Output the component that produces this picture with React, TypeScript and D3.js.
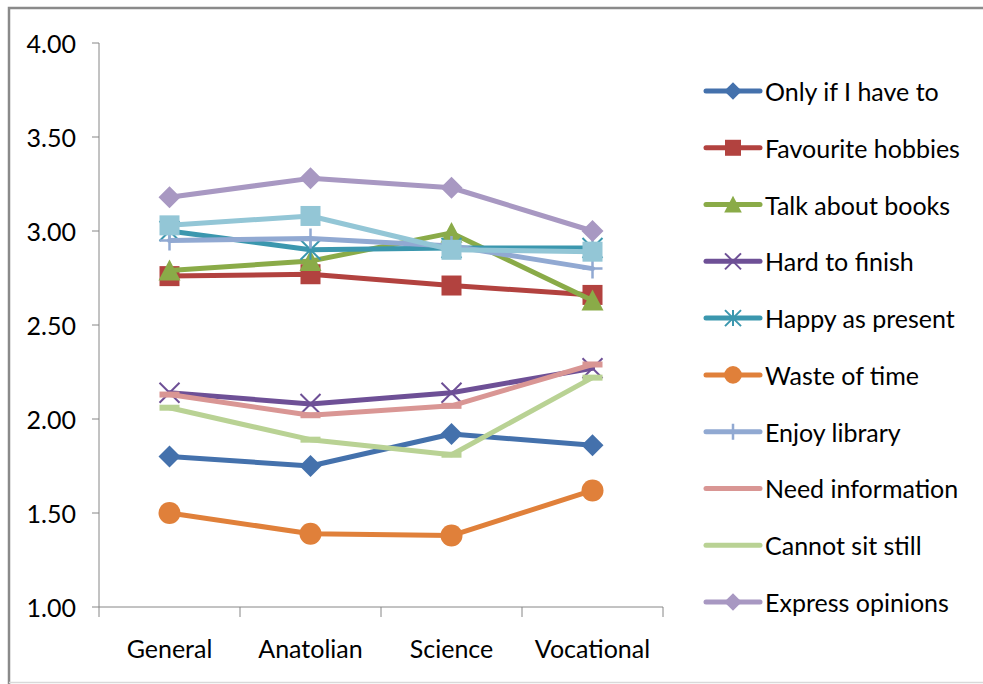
import { useEffect, useRef } from 'react';
import * as d3 from 'd3';

const categories = ['General', 'Anatolian', 'Science', 'Vocational'];

const yTicks = [1.0, 1.5, 2.0, 2.5, 3.0, 3.5, 4.0];

const onlyIfIHaveTo = [1.8, 1.75, 1.92, 1.86];
const favouriteHobbies = [2.76, 2.77, 2.71, 2.66];
const talkAboutBooks = [2.79, 2.84, 2.99, 2.63];
const hardToFinish = [2.14, 2.08, 2.14, 2.27];
const happyAsPresent = [3.0, 2.9, 2.91, 2.91];
const wasteOfTime = [1.5, 1.39, 1.38, 1.62];
const enjoyLibrary = [2.95, 2.96, 2.92, 2.8];
const needInformation = [2.13, 2.02, 2.07, 2.29];
const cannotSitStill = [2.06, 1.89, 1.81, 2.22];
const expressOpinions = [3.18, 3.28, 3.23, 3.0];
// 11th series is plotted but not listed in the legend
const extraSeries = [3.03, 3.08, 2.9, 2.89];

type Shape = 'diamond' | 'square' | 'triangle' | 'x' | 'asterisk' | 'circle' | 'plus' | 'dash';

const series: { name: string; values: number[]; color: string; shape: Shape; legend: boolean }[] = [
  { name: 'Only if I have to', values: onlyIfIHaveTo, color: '#4471AC', shape: 'diamond', legend: true },
  { name: 'Favourite hobbies', values: favouriteHobbies, color: '#B2423F', shape: 'square', legend: true },
  { name: 'Talk about books', values: talkAboutBooks, color: '#8AAB48', shape: 'triangle', legend: true },
  { name: 'Hard to finish', values: hardToFinish, color: '#6E5096', shape: 'x', legend: true },
  { name: 'Happy as present', values: happyAsPresent, color: '#3B97AE', shape: 'asterisk', legend: true },
  { name: 'Waste of time', values: wasteOfTime, color: '#E0803A', shape: 'circle', legend: true },
  { name: 'Enjoy library', values: enjoyLibrary, color: '#91A9D2', shape: 'plus', legend: true },
  { name: 'Need information', values: needInformation, color: '#D99694', shape: 'dash', legend: true },
  { name: 'Cannot sit still', values: cannotSitStill, color: '#B9D294', shape: 'dash', legend: true },
  { name: 'Express opinions', values: expressOpinions, color: '#A898C2', shape: 'diamond', legend: true },
  { name: 'Series 11', values: extraSeries, color: '#93C6D6', shape: 'square', legend: false },
];

function drawMarker(
  g: d3.Selection<SVGGElement, unknown, null, undefined>,
  shape: Shape,
  cx: number,
  cy: number,
  color: string,
  scale = 1
) {
  const r = 11 * scale;
  const m = g.append('g').attr('transform', `translate(${cx},${cy})`);
  if (shape === 'diamond') {
    m.append('path').attr('d', `M0,${-r}L${r},0L0,${r}L${-r},0Z`).attr('fill', color);
  } else if (shape === 'square') {
    const s = 10 * scale;
    m.append('rect').attr('x', -s).attr('y', -s).attr('width', 2 * s).attr('height', 2 * s).attr('fill', color);
  } else if (shape === 'triangle') {
    m.append('path').attr('d', `M0,${-r}L${r},${r * 0.9}L${-r},${r * 0.9}Z`).attr('fill', color);
  } else if (shape === 'circle') {
    m.append('circle').attr('r', r).attr('fill', color);
  } else if (shape === 'x') {
    const s = 10 * scale;
    m.append('path').attr('d', `M${-s},${-s}L${s},${s}M${s},${-s}L${-s},${s}`).attr('stroke', color).attr('stroke-width', 2);
  } else if (shape === 'asterisk') {
    const s = 10 * scale;
    m.append('path')
      .attr('d', `M${-s},${-s}L${s},${s}M${s},${-s}L${-s},${s}M0,${-s}L0,${s}`)
      .attr('stroke', color).attr('stroke-width', 2);
  } else if (shape === 'plus') {
    const s = 10 * scale;
    m.append('path').attr('d', `M${-s},0L${s},0M0,${-s}L0,${s}`).attr('stroke', color).attr('stroke-width', 2.5);
  } else if (shape === 'dash') {
    m.append('rect').attr('x', -10 * scale).attr('y', -3).attr('width', 20 * scale).attr('height', 6).attr('fill', color);
  }
}

export default function App() {
  const svgRef = useRef<SVGSVGElement>(null);

  useEffect(() => {
    if (!svgRef.current) return;
    const svg = d3.select(svgRef.current);
    svg.selectAll('*').remove();

    const width = 983;
    const height = 684;
    const font = 'Lato, "Open Sans", sans-serif';
    const fontSize = '25px';
    const axisColor = '#868686';

    // frame: dark left/top edges, faint bottom edge
    svg.append('rect').attr('width', width).attr('height', height).attr('fill', '#fff');
    svg.append('path')
      .attr('d', `M9,${height}L9,8L${width},8`)
      .attr('fill', 'none').attr('stroke', '#8a8a8a').attr('stroke-width', 2.5);
    svg.append('line')
      .attr('x1', 9).attr('x2', width).attr('y1', height - 1.5).attr('y2', height - 1.5)
      .attr('stroke', '#d9d9d9').attr('stroke-width', 1.5);

    const x0 = 99, x1 = 663, yTop = 43, yBot = 607;
    const xScale = d3.scaleBand<string>().domain(categories).range([x0, x1]);
    const yScale = d3.scaleLinear().domain([1, 4]).range([yBot, yTop]);

    const g = svg.append('g');

    // Y axis
    g.append('line').attr('x1', x0).attr('x2', x0).attr('y1', yTop).attr('y2', yBot)
      .attr('stroke', axisColor).attr('stroke-width', 1);
    yTicks.forEach((t) => {
      g.append('line').attr('x1', x0 - 7).attr('x2', x0).attr('y1', yScale(t)).attr('y2', yScale(t))
        .attr('stroke', axisColor);
      g.append('text')
        .attr('x', 76).attr('y', yScale(t))
        .attr('text-anchor', 'end').attr('dominant-baseline', 'central')
        .attr('font-family', font).attr('font-size', fontSize).attr('fill', '#000')
        .text(d3.format('.2f')(t));
    });

    // X axis
    g.append('line').attr('x1', x0).attr('x2', x1).attr('y1', yBot).attr('y2', yBot)
      .attr('stroke', axisColor);
    [...categories.map((c) => xScale(c)!), x1].forEach((px) => {
      g.append('line').attr('x1', px).attr('x2', px).attr('y1', yBot).attr('y2', yBot + 10)
        .attr('stroke', axisColor);
    });
    categories.forEach((c) => {
      g.append('text')
        .attr('x', xScale(c)! + xScale.bandwidth() / 2).attr('y', 648)
        .attr('text-anchor', 'middle').attr('dominant-baseline', 'central')
        .attr('font-family', font).attr('font-size', fontSize).attr('fill', '#000')
        .text(c);
    });

    const cx = (i: number) => xScale(categories[i])! + xScale.bandwidth() / 2;
    const line = d3.line<number>().x((_, i) => cx(i)).y((d) => yScale(d));

    // series
    series.forEach((s) => {
      g.append('path')
        .datum(s.values)
        .attr('d', line)
        .attr('fill', 'none')
        .attr('stroke', s.color)
        .attr('stroke-width', 5)
        .attr('stroke-linejoin', 'round')
        .attr('stroke-linecap', 'round');
      s.values.forEach((v, i) => drawMarker(g, s.shape, cx(i), yScale(v), s.color));
    });

    // legend
    const legendSeries = series.filter((s) => s.legend);
    const legendY = d3.scaleLinear().domain([0, legendSeries.length - 1]).range([91, 602]);
    legendSeries.forEach((s, i) => {
      const y = legendY(i);
      g.append('line').attr('x1', 706).attr('x2', 760).attr('y1', y).attr('y2', y)
        .attr('stroke', s.color).attr('stroke-width', 5).attr('stroke-linecap', 'round');
      if (s.shape !== 'dash') drawMarker(g, s.shape, 733, y, s.color, 0.8);
      g.append('text')
        .attr('x', 765).attr('y', y)
        .attr('dominant-baseline', 'central')
        .attr('font-family', font).attr('font-size', fontSize).attr('fill', '#000')
        .text(s.name);
    });
  }, []);

  return (
    <svg
      ref={svgRef}
      width={983}
      height={684}
      style={{ position: 'absolute', left: 0, top: 0, background: '#fff' }}
    />
  );
}
